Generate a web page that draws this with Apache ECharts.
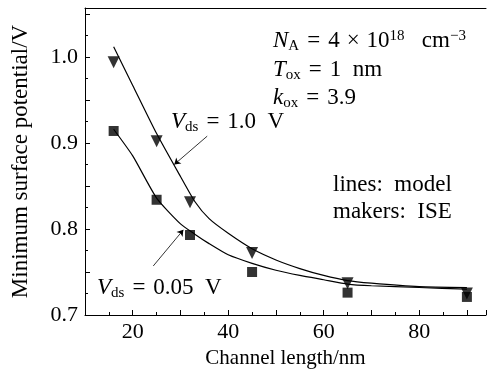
<!DOCTYPE html>
<html><head><meta charset="utf-8">
<script src="https://cdn.jsdelivr.net/npm/echarts@6/dist/echarts.min.js"></script>
<style>html,body{margin:0;padding:0;background:#fff}#c{width:489px;height:374px}</style>
</head><body><div id="c"></div>
<script>
// ISE markers
const iseX = [16, 25, 32, 45, 65, 90];
const iseV10 = [0.994, 0.902, 0.831, 0.772, 0.737, 0.725];
const iseV005 = [0.914, 0.834, 0.793, 0.750, 0.726, 0.721];
// model lines
const modelX = [16, 20, 25, 30, 33, 36, 40, 45, 50, 55, 60, 65, 70, 80, 90];
const modelV10 = [1.012, 0.967, 0.911, 0.861, 0.832, 0.812, 0.795, 0.777, 0.764, 0.754, 0.746, 0.740, 0.737, 0.733, 0.732];
const modelV005 = [0.916, 0.885, 0.836, 0.806, 0.794, 0.783, 0.770, 0.760, 0.752, 0.746, 0.741, 0.736, 0.734, 0.732, 0.730];
const xTickLabels = [20, 40, 60, 80];
const yTickLabels = [0.7, 0.8, 0.9, 1.0];

const F = 'Liberation Serif';
const FS = 23;
const pair = (xs, ys) => xs.map((x, i) => [x, ys[i]]);
const rich = {
  i: {fontFamily: F, fontStyle: 'italic', fontSize: FS},
  s: {fontFamily: F, fontSize: 15, padding: [10, 0, 0, 0]},
  n: {fontFamily: F, fontSize: FS},
  e: {fontFamily: F, fontSize: FS, padding: [0, 8, 0, 8]},
  x: {fontFamily: F, fontSize: FS, padding: [0, 7, 0, 7]},
  sup: {fontFamily: F, fontSize: 15, padding: [0, 0, 10, 0]}
};
const chart = echarts.init(document.getElementById('c'));
chart.setOption({
  animation: false,
  grid: {left: 85, right: 0, top: 8, bottom: 54},
  xAxis: [{
    type: 'value', min: 10, max: 94, interval: 10,
    name: 'Channel length/nm', nameLocation: 'middle', nameGap: 33,
    nameTextStyle: {fontFamily: F, fontSize: 21, color: '#000'},
    axisLine: {lineStyle: {color: '#000', width: 1}},
    axisTick: {inside: true, length: 5, lineStyle: {color: '#000'}},
    minorTick: {show: true, splitNumber: 2, length: 3, lineStyle: {color: '#000'}},
    splitLine: {show: false},
    axisLabel: {fontFamily: F, fontSize: 22, color: '#000', margin: 6,
      formatter: v => xTickLabels.includes(v) ? String(v) : ''}
  }, {
    type: 'value', position: 'top', min: 10, max: 94,
    axisLine: {show: true, lineStyle: {color: '#000'}},
    axisTick: {show: false}, axisLabel: {show: false}, splitLine: {show: false}
  }],
  yAxis: {
    type: 'value', min: 0.7, max: 1.057, interval: 0.05,
    name: 'Minimum surface potential/V', nameLocation: 'middle', nameGap: 53,
    nameTextStyle: {fontFamily: F, fontSize: 23, color: '#000'},
    axisLine: {show: true, lineStyle: {color: '#000', width: 1}},
    axisTick: {inside: true, length: 5, lineStyle: {color: '#000'}},
    minorTick: {show: true, splitNumber: 2, length: 3, lineStyle: {color: '#000'}},
    splitLine: {show: false},
    axisLabel: {fontFamily: F, fontSize: 22, color: '#000', margin: 7,
      formatter: v => { const r = Math.round(v * 100) / 100; return yTickLabels.some(t => Math.abs(t - r) < 1e-6) ? r.toFixed(1) : ''; }}
  },
  series: [
    {type: 'line', data: pair(modelX, modelV10), smooth: 0.2, symbol: 'none',
     lineStyle: {color: '#000', width: 1.2},
     markLine: {silent: true, symbol: ['none', 'arrow'], symbolSize: 6,
       lineStyle: {color: '#000', width: 0.8, type: 'solid'}, label: {show: false},
       data: [[{coord: [35.6, 0.908]}, {coord: [28.7, 0.875]}]]}},
    {type: 'line', data: pair(modelX, modelV005), smooth: 0.2, symbol: 'none',
     lineStyle: {color: '#000', width: 1.2},
     markLine: {silent: true, symbol: ['none', 'arrow'], symbolSize: 6,
       lineStyle: {color: '#000', width: 0.8, type: 'solid'}, label: {show: false},
       data: [[{coord: [24.3, 0.757]}, {coord: [30.6, 0.799]}]]}},
    {type: 'scatter', data: pair(iseX, iseV10), symbol: 'triangle', symbolRotate: 180,
     symbolSize: 12, itemStyle: {color: '#000'}},
    {type: 'scatter', data: pair(iseX, iseV005), symbol: 'rect', symbolSize: 10,
     itemStyle: {color: '#000'}}
  ],
  graphic: [
    {type: 'text', style: {x: 273, y: 41, verticalAlign: 'middle', rich, text: '{i|N}{s|A}{e|=}{n|4}{x|×}{n|10}{sup|18}{n|   cm}{sup|−3}'}},
    {type: 'text', style: {x: 273, y: 70, verticalAlign: 'middle', rich, text: '{i|T}{s|ox}{e|=}{n|1  nm}'}},
    {type: 'text', style: {x: 273, y: 98, verticalAlign: 'middle', rich, text: '{i|k}{s|ox}{e|=}{n|3.9}'}},
    {type: 'text', style: {x: 171, y: 122, verticalAlign: 'middle', rich, text: '{i|V}{s|ds}{e|=}{n|1.0  V}'}},
    {type: 'text', style: {x: 97, y: 288, verticalAlign: 'middle', rich, text: '{i|V}{s|ds}{e|=}{n|0.05  V}'}},
    {type: 'text', style: {x: 333, y: 185, verticalAlign: 'middle', fontFamily: F, fontSize: FS, fill: '#000', text: 'lines:  model'}},
    {type: 'text', style: {x: 333, y: 212, verticalAlign: 'middle', fontFamily: F, fontSize: FS, fill: '#000', text: 'makers:  ISE'}}
  ]
});
</script></body></html>
